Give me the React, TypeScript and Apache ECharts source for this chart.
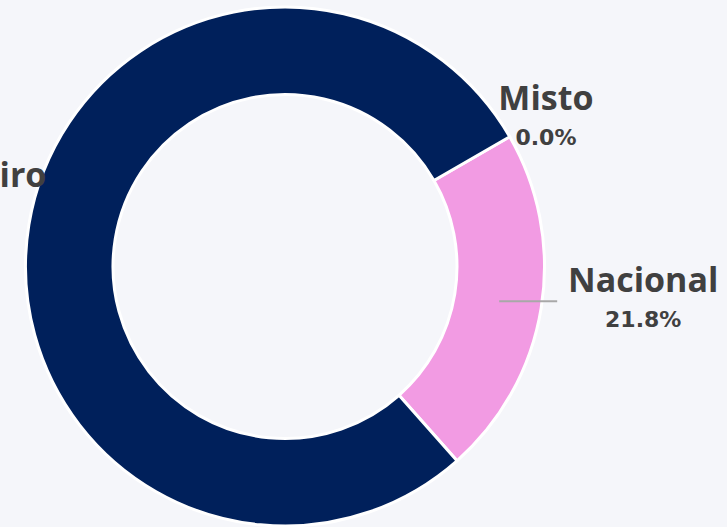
import React, { useEffect, useRef } from "react";
import * as echarts from "echarts";

// Data (shares in %), in clockwise order starting at the top-right boundary
const categories = ["Misto", "Nacional", "Estrangeiro"];
const shares = [0.0, 21.8, 78.2];
const colors = ["#00205b", "#f29be3", "#00205b"];
// whether each label shows its leader line
const showLeader = [false, true, false];
// label nudges (dx, dy) applied through labelLayout
const nudgeX = [-73, -2, 24];
const nudgeY = [-42, -3, -39];

export default function App() {
  const ref = useRef<HTMLDivElement>(null);

  useEffect(() => {
    document.body.style.margin = "0";
    document.body.style.background = "#f5f6fa";
    if (!ref.current) return;
    const chart = echarts.init(ref.current, undefined, { renderer: "svg" });

    const ringData = categories.map((name, i) => ({
      name,
      value: shares[i],
      itemStyle: { color: colors[i] },
    }));

    const labelData = categories.map((name, i) => ({
      name,
      value: shares[i],
      labelLine: { show: showLeader[i] },
    }));

    chart.setOption({
      animation: false,
      backgroundColor: "#f5f6fa",
      series: [
        {
          type: "pie",
          z: 1,
          center: [285, 266.5],
          radius: [172, 259.5],
          startAngle: 30,
          clockwise: true,
          silent: true,
          avoidLabelOverlap: false,
          label: { show: false },
          labelLine: { show: false },
          itemStyle: { borderColor: "#ffffff", borderWidth: 3 },
          emphasis: { disabled: true },
          data: ringData,
        },
        {
          type: "pie",
          z: 5,
          center: [285, 266.5],
          radius: [0, 217],
          startAngle: 30,
          clockwise: true,
          silent: true,
          avoidLabelOverlap: false,
          itemStyle: { color: "rgba(0,0,0,0)", borderWidth: 0 },
          emphasis: { disabled: true },
          label: {
            show: true,
            position: "outside",
            width: 156,
            overflow: "none",
            distanceToLabelLine: 10,
            formatter: (p: any) =>
              `{n|${p.name}}\n{p|${Number(p.value).toFixed(1)}%}`,
            rich: {
              n: {
                fontFamily: "Open Sans",
                fontWeight: "bold",
                fontSize: 34,
                color: "#404040",
                lineHeight: 42,
                align: "center",
              },
              p: {
                fontFamily: "DejaVu Sans",
                fontWeight: "bold",
                fontSize: 22,
                color: "#404040",
                lineHeight: 38,
                align: "center",
              },
            },
          },
          labelLine: {
            show: true,
            length: 0,
            length2: 58,
            z: 10,
            lineStyle: { color: "#a8a8a8", width: 2 },
          },
          labelLayout: (params: any) => ({
            dx: nudgeX[params.dataIndex],
            dy: nudgeY[params.dataIndex],
            hideOverlap: false,
          }),
          data: labelData,
        },
      ],
    });

    return () => chart.dispose();
  }, []);

  return <div ref={ref} style={{ width: 727, height: 527 }} />;
}
